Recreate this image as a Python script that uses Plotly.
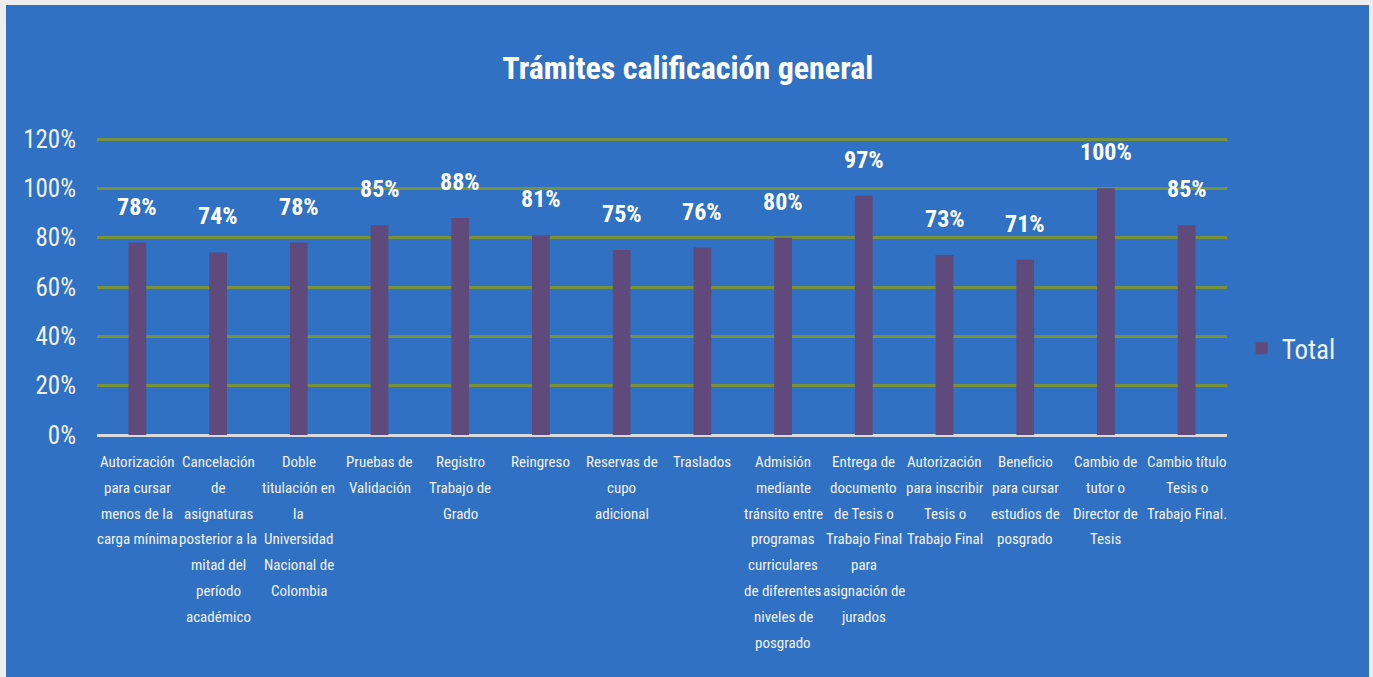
import plotly.graph_objects as go

categories = [
    "Autorización<br>para cursar<br>menos de la<br>carga mínima",
    "Cancelación<br>de<br>asignaturas<br>posterior a la<br>mitad del<br>período<br>académico",
    "Doble<br>titulación en<br>la<br>Universidad<br>Nacional de<br>Colombia",
    "Pruebas de<br>Validación",
    "Registro<br>Trabajo de<br>Grado",
    "Reingreso",
    "Reservas de<br>cupo<br>adicional",
    "Traslados",
    "Admisión<br>mediante<br>tránsito entre<br>programas<br>curriculares<br>de diferentes<br>niveles de<br>posgrado",
    "Entrega de<br>documento<br>de Tesis o<br>Trabajo Final<br>para<br>asignación de<br>jurados",
    "Autorización<br>para inscribir<br>Tesis o<br>Trabajo Final",
    "Beneficio<br>para cursar<br>estudios de<br>posgrado",
    "Cambio de<br>tutor o<br>Director de<br>Tesis",
    "Cambio título<br>Tesis o<br>Trabajo Final.",
]
values = [0.78, 0.74, 0.78, 0.85, 0.88, 0.81, 0.75, 0.76, 0.80, 0.97, 0.73, 0.71, 1.00, 0.85]
y_ticks = [0, 0.2, 0.4, 0.6, 0.8, 1.0, 1.2]

FONT = "Liberation Sans Narrow, Arial Narrow, Roboto Condensed, Open Sans, sans-serif"
BG = "#3171C3"
BAR = "#604A7B"
TXT = "#F2F2F2"

W, H = 1373, 677
ML, MR, MT, MB = 97, 146, 137, 242
PW, PH = W - ML - MR, H - MT - MB

x_idx = list(range(len(categories)))

fig = go.Figure()
fig.add_trace(go.Bar(
    x=x_idx, y=values, name="Total",
    marker=dict(color=BAR, line=dict(width=0)),
    width=0.22,
))

annotations = []
for i, v in zip(x_idx, values):
    annotations.append(dict(
        x=i, y=v, xref="x", yref="y", text=f"{round(v*100)}%",
        showarrow=False, yshift=36, yanchor="middle",
        font=dict(family=FONT, size=24, color="white", weight="bold"),
    ))
for i, cat in zip(x_idx, categories):
    for j, line in enumerate(cat.split("<br>")):
        annotations.append(dict(
            x=i, y=0, xref="x", yref="y", text=line,
            showarrow=False, yanchor="middle", yshift=-(27 + 25.8 * j),
            font=dict(family=FONT, size=15, color=TXT),
        ))

# blue chart panel (outside is a light page border)
panel = dict(type="rect", xref="paper", yref="paper", layer="below",
             x0=(6 - ML) / PW, x1=(1369 - ML) / PW,
             y0=-(H - MT - PH + 10) / PH, y1=(MT + PH - 5) / PH,
             fillcolor=BG, line=dict(width=0))

fig.update_layout(
    width=W, height=H,
    paper_bgcolor="#EDEDED", plot_bgcolor="rgba(0,0,0,0)",
    margin=dict(l=ML, r=MR, t=MT, b=MB),
    title=dict(text="<b>Trámites calificación general</b>", x=0.501, xanchor="center",
               y=1 - 68 / H, yanchor="middle",
               font=dict(family=FONT, size=32, color="white")),
    showlegend=True,
    legend=dict(x=1.013, y=0.29, xanchor="left", yanchor="middle",
                font=dict(family=FONT, size=27, color=TXT),
                bgcolor="rgba(0,0,0,0)"),
    annotations=annotations,
    shapes=[panel],
)
fig.update_xaxes(range=[-0.5, len(categories) - 0.5], showticklabels=False,
                 showgrid=False, zeroline=False, showline=False, ticks="")
fig.update_yaxes(range=[0, 1.2 * PH / (PH - 2)], tickvals=y_ticks, tickformat=".0%",
                 showgrid=True, gridcolor="#76923C", gridwidth=3,
                 zeroline=True, zerolinecolor="#D9D9D9", zerolinewidth=3,
                 showline=False, ticks="", ticklen=0, ticklabelstandoff=20,
                 tickfont=dict(family=FONT, size=25, color=TXT))

fig.write_html("out.html")
